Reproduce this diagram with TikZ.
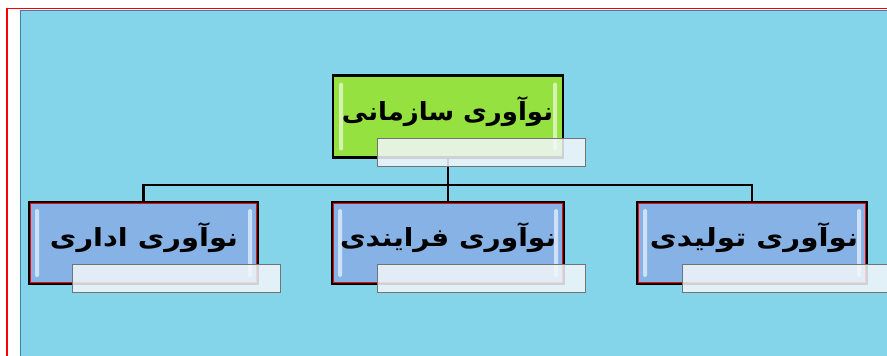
\documentclass[tikz,border=0pt]{standalone}
\usepackage{fontspec}
\usepackage{graphicx}
\newfontfamily\arabicfont[Script=Arabic]{DejaVu Sans}
\TeXXeTstate=1
\definecolor{bgblue}{HTML}{84D5EA}
\definecolor{frameblue}{HTML}{4A79A8}
\definecolor{boxblue}{HTML}{86B2E6}
\definecolor{boxgreen}{HTML}{94E13F}
\definecolor{lblfill}{HTML}{F2F7FA}
\begin{document}
\begin{tikzpicture}[x=1pt,y=-1pt,
  bx/.style={draw=black, line width=1.8pt, minimum width=#1, minimum height=82pt, inner sep=0pt, outer sep=0pt},
  bluebox/.style={bx=#1, fill=boxblue},
  greenbox/.style={bx=#1, fill=boxgreen, line width=2.2pt},
  lbl/.style={draw=black!55, line width=1pt, fill=lblfill, fill opacity=.85, minimum width=208pt, minimum height=28pt, inner sep=0pt, outer sep=0pt},
  txt/.style={font=\arabicfont\bfseries\fontsize{25}{30}\selectfont, inner sep=0pt},
  conn/.style={draw=black, line width=2.2pt},
  hl/.style={fill=white, opacity=.6, rounded corners=1.5pt}
]
\useasboundingbox (0,0) rectangle (887,356);
\fill[white] (0,0) rectangle (887,356);
\fill[bgblue] (20.5,10) rectangle (887,356);
\draw[frameblue, line width=1.2pt] (20.5,356) -- (20.5,10.6) -- (887,10.6);
\draw[red, line width=1.5pt] (7,356) -- (7,8.5) -- (887,8.5);

% boxes
\node[greenbox=230pt] (top) at (448,116.5) {};
\node[bluebox=229pt] (left) at (143.5,243) {};
\node[bluebox=232pt] (mid) at (448,243) {};
\node[bluebox=230pt] (right) at (752,243) {};

% red inner borders
\foreach \b in {left,mid,right}{
  \draw[red, line width=0.9pt] ([shift={(1.5,1.5)}]\b.north west) rectangle ([shift={(-1.5,-1.5)}]\b.south east);
}
% highlights
\foreach \b in {top,left,mid,right}{
  \fill[hl] ([shift={(6,7)}]\b.north west) rectangle ([shift={(10,-7)}]\b.south west);
  \fill[hl] ([shift={(-10,7)}]\b.north east) rectangle ([shift={(-6,-7)}]\b.south east);
}

% connectors
\coordinate (bus) at (448,185);
\draw[conn] (top.south) -- (bus);
\draw[conn] (bus) -| (left.north);
\draw[conn] (bus) -- (mid.north);
\draw[conn] (bus) -| (right.north);

% texts
\node[txt] (ttop) at (447.5,111.5) {\resizebox{211pt}{\height}{\beginR نوآوری سازمانی\endR}};
\node[txt] (tleft) at (144,237.5) {\resizebox{188pt}{\height}{\beginR نوآوری اداری\endR}};
\node[txt] (tmid) at (448,237.5) {\resizebox{216pt}{\height}{\beginR نوآوری فرایندی\endR}};
\node[txt] (tright) at (754,237.5) {\resizebox{208pt}{\height}{\beginR نوآوری تولیدی\endR}};

% labels
\node[lbl] (ltop) at (481,152) {};
\node[lbl] (lleft) at (176.5,278) {};
\node[lbl] (lmid) at (481,278) {};
\node[lbl] (lright) at (786,278) {};
\end{tikzpicture}
\end{document}
